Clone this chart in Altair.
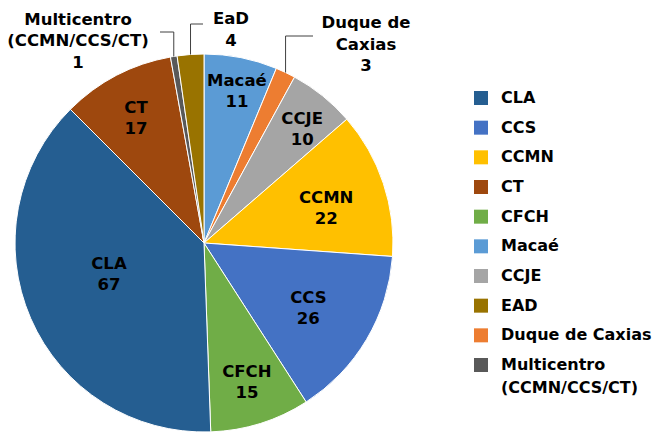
import math
import altair as alt
import pandas as pd

# ---------------- data (slices listed clockwise from 12 o'clock) ----------------
categories = ["Macaé", "Duque de Caxias", "CCJE", "CCMN", "CCS", "CFCH", "CLA", "CT",
              "Multicentro (CCMN/CCS/CT)", "EAD"]
values = [11, 3, 10, 22, 26, 15, 67, 17, 1, 4]
slice_names = ["Macaé", "Duque de\nCaxias", "CCJE", "CCMN", "CCS", "CFCH", "CLA", "CT",
               "Multicentro\n(CCMN/CCS/CT)", "EaD"]

legend_order = ["CLA", "CCS", "CCMN", "CT", "CFCH", "Macaé", "CCJE", "EAD",
                "Duque de Caxias", "Multicentro (CCMN/CCS/CT)"]
legend_line1 = ["CLA", "CCS", "CCMN", "CT", "CFCH", "Macaé", "CCJE", "EAD",
                "Duque de Caxias", "Multicentro"]
legend_line2 = ["", "", "", "", "", "", "", "", "", "(CCMN/CCS/CT)"]
palette = ["#255e91", "#4472c4", "#ffc000", "#9e480e", "#70ad47", "#5b9bd5",
           "#a5a5a5", "#997300", "#ed7d31", "#595959"]

# ---------------- layout ----------------
FONT = "DejaVu Sans"
FS = 16.5
LEG_FS = 16
LH = 21
CX, CY, R = 196, 235, 189
# inside labels: (radius, angular nudge in degrees from slice middle)
inside_pos = {"CLA": (100, 5.4), "CCS": (123, 1.3), "CCMN": (127, 2.6),
              "CT": (142, -1.0), "CFCH": (146, 0.3), "Macaé": (155, 1.0),
              "CCJE": (150, 2.0)}
# outside labels: centre x, first-line y, elbow y, horizontal end x
outside = {
    "Multicentro (CCMN/CCS/CT)": (70, 11.5, 24, 152),
    "EAD": (223, 11, 16, 195),
    "Duque de Caxias": (358, 15, 28, 305),
}

total = sum(values)
rows = []
cum = 0
for i, (c, v, n) in enumerate(zip(categories, values, slice_names)):
    mid = (cum + v / 2) / total * 2 * math.pi
    cum += v
    rows.append({"cat": c, "value": v, "idx": i, "name": n, "mid": mid})
df = pd.DataFrame(rows)

in_df = pd.DataFrame([
    {"ang": r["mid"] + math.radians(inside_pos[r["cat"]][1]),
     "lr": inside_pos[r["cat"]][0], "label": f"{r['name']}\n{r['value']}"}
    for r in rows if r["cat"] in inside_pos
])

out_rows, seg_rows = [], []
for r in rows:
    if r["cat"] in outside:
        lx, ly, ey, ex = outside[r["cat"]]
        out_rows.append({"x": lx, "y": ly, "t": f"{r['name']}\n{r['value']}"})
        px = CX + R * math.sin(r["mid"])
        py = CY - R * math.cos(r["mid"])
        seg_rows.append({"x": px, "y": py, "x2": px, "y2": ey})
        seg_rows.append({"x": px, "y": ey, "x2": ex, "y2": ey})
out_df = pd.DataFrame(out_rows)
seg_df = pd.DataFrame(seg_rows)

leg_df = pd.DataFrame({"cat": legend_order, "l1": legend_line1, "l2": legend_line2})

color_scale = alt.Scale(domain=legend_order, range=palette)

arcs = alt.Chart(df).mark_arc(stroke="white", strokeWidth=1, outerRadius=R).encode(
    theta=alt.Theta("value:Q", stack=True),
    order=alt.Order("idx:Q", sort="ascending"),
    color=alt.Color("cat:N", scale=color_scale, legend=None),
    x=alt.value(CX), y=alt.value(CY),
)
inner_text = alt.Chart(in_df).mark_text(font=FONT, fontSize=FS, fontWeight="bold",
                                        color="black", lineBreak="\n", lineHeight=LH,
                                        align="center", baseline="middle",
                                        dy=-LH / 2).encode(
    theta=alt.Theta("ang:Q", scale=None),
    radius=alt.Radius("lr:Q", scale=None),
    text="label:N",
    x=alt.value(CX), y=alt.value(CY),
)
segs = alt.Chart(seg_df).mark_rule(color="#404040", strokeWidth=1).encode(
    x=alt.X("x:Q", scale=None, axis=None), y=alt.Y("y:Q", scale=None, axis=None),
    x2="x2:Q", y2="y2:Q",
)
out_text = alt.Chart(out_df).mark_text(font=FONT, fontSize=FS, fontWeight="bold",
                                       color="black", lineBreak="\n", lineHeight=21.5,
                                       align="center", baseline="middle").encode(
    x=alt.X("x:Q", scale=None, axis=None), y=alt.Y("y:Q", scale=None, axis=None),
    text="t:N",
)

leg_y = alt.Y("cat:N", sort=legend_order, axis=None,
              scale=alt.Scale(range=[90, 357], padding=0))
leg_sq = alt.Chart(leg_df).mark_square(size=196, opacity=1).encode(
    x=alt.value(473), y=leg_y,
    color=alt.Color("cat:N", scale=color_scale, legend=None),
)
leg_t1 = alt.Chart(leg_df).mark_text(font=FONT, fontSize=LEG_FS, fontWeight="bold",
                                     color="black", align="left",
                                     baseline="middle").encode(
    x=alt.value(493), y=leg_y, text="l1:N")
leg_t2 = alt.Chart(leg_df).mark_text(font=FONT, fontSize=LEG_FS, fontWeight="bold",
                                     color="black", align="left", baseline="middle",
                                     dy=23).encode(
    x=alt.value(493), y=leg_y, text="l2:N")

pie = alt.layer(arcs, inner_text, segs, out_text)
legend = alt.layer(leg_sq, leg_t1, leg_t2)

chart = alt.layer(pie, legend).resolve_scale(y="independent", x="independent").properties(
    width=644, height=424, padding=0, autosize=alt.AutoSizeParams(type="none"),
    background="white",
).configure_view(stroke=None)

chart.save("out.html", embed_options={"renderer": "svg", "actions": False})
